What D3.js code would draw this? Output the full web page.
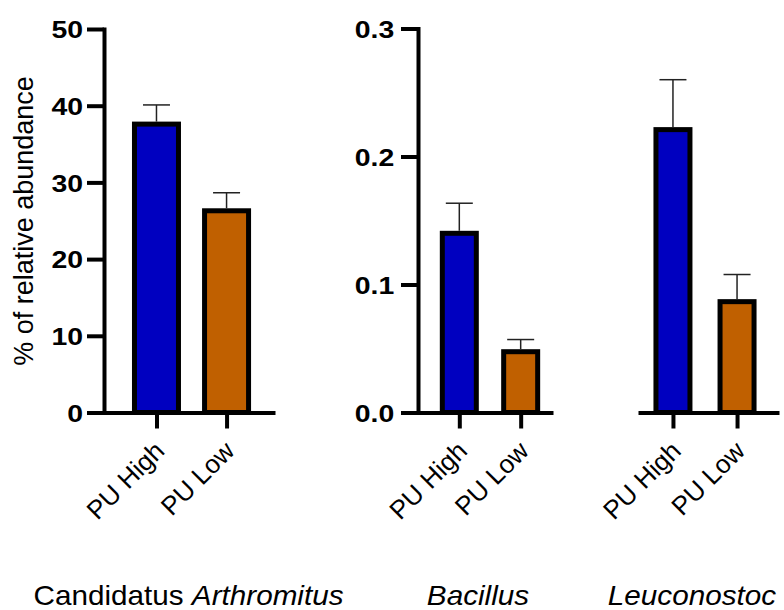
<!DOCTYPE html>
<html>
<head>
<meta charset="utf-8">
<script src="https://cdn.jsdelivr.net/npm/d3@7"></script>
<style>
  body { margin: 0; background: #fff; }
  text { font-family: "Liberation Sans", Arial, sans-serif; }
</style>
</head>
<body>
<div id="chart"></div>
<script>
// Data
const genera = ["Candidatus Arthromitus", "Bacillus", "Leuconostoc"];
const groups = ["PU High", "PU Low"];
const meanHigh = [37.6, 0.140, 0.221];
const meanLow = [26.3, 0.0475, 0.0866];
const errHigh = [2.5, 0.0235, 0.039];
const errLow = [2.35, 0.0095, 0.0212];
const colors = ["#0000c0", "#c06000"];
const ticksLeft = [0, 10, 20, 30, 40, 50];
const ticksRight = [0, 0.1, 0.2, 0.3];

const width = 784, height = 610;

const svg = d3.select("#chart")
    .append("svg")
    .attr("width", width)
    .attr("height", height);

// Two value scales: percent for first genus, smaller one shared by the other two
const yLeft = d3.scaleLinear().domain([0, 50]).range([412.5, 29]);
const yRight = d3.scaleLinear().domain([0, 0.3]).range([412.5, 28.5]);

const panels = [
    {g: 0, y: yLeft, range: [104, 275], pad: 0.72, align: 0.52, barW: 44, ticks: ticksLeft, fmt: d3.format("d"), labX: -18, labOff: -3},
    {g: 1, y: yRight, range: [418, 553], pad: 0.6, align: 0.561, barW: 34, ticks: ticksRight, fmt: d3.format(".1f"), labX: -20.5, labOff: -12},
    {g: 2, y: yRight, range: [638, 779], pad: 0.6, align: 0.4545, barW: 34, ticks: null, labOff: -13}
];

const sx = 1.06; // labels in the figure are slightly wide

panels.forEach(p => {
    const x = d3.scalePoint().domain(groups).range(p.range).padding(p.pad).align(p.align);
    const rows = groups.map((grp, i) => ({
        grp: grp,
        mean: i === 0 ? meanHigh[p.g] : meanLow[p.g],
        err: i === 0 ? errHigh[p.g] : errLow[p.g],
        color: colors[i]
    }));

    // bars
    svg.append("g")
        .selectAll("rect")
        .data(rows)
        .enter()
        .append("rect")
        .attr("x", d => x(d.grp) - p.barW / 2)
        .attr("y", d => p.y(d.mean))
        .attr("width", p.barW)
        .attr("height", d => p.y(0) - p.y(d.mean))
        .attr("fill", d => d.color)
        .attr("stroke", "#000")
        .attr("stroke-width", 5);

    // upper error bars
    const eb = svg.append("g")
        .attr("stroke", "#222")
        .attr("stroke-width", 1.5);
    eb.selectAll(".stem")
        .data(rows)
        .enter()
        .append("line")
        .attr("x1", d => x(d.grp)).attr("x2", d => x(d.grp))
        .attr("y1", d => p.y(d.mean) - 2.5)
        .attr("y2", d => p.y(d.mean + d.err));
    eb.selectAll(".cap")
        .data(rows)
        .enter()
        .append("line")
        .attr("x1", d => x(d.grp) - 13.5).attr("x2", d => x(d.grp) + 13.5)
        .attr("y1", d => p.y(d.mean + d.err))
        .attr("y2", d => p.y(d.mean + d.err));

    // x axis
    const xAxis = svg.append("g")
        .attr("transform", `translate(0,${p.y(0)})`)
        .call(d3.axisBottom(x).tickSize(16).tickSizeOuter(0));
    xAxis.select(".domain").attr("stroke-width", 4);
    xAxis.selectAll(".tick line").attr("stroke-width", 4);
    xAxis.selectAll(".tick text")
        .attr("x", 9)
        .attr("y", 40)
        .attr("dy", 0)
        .attr("text-anchor", "end")
        .attr("transform", "rotate(-45 9 40)")
        .attr("fill", "#000")
        .style("font-size", "26px")
        .style("font-family", "'Liberation Sans', Arial, sans-serif");

    // y axis
    if (p.ticks) {
        const yAxis = svg.append("g")
            .attr("transform", `translate(${p.range[0]},0)`)
            .call(d3.axisLeft(p.y).tickValues(p.ticks).tickFormat(p.fmt).tickSize(17).tickSizeOuter(0));
        yAxis.select(".domain")
            .attr("stroke-width", 4)
            .attr("stroke-linecap", "square");
        yAxis.selectAll(".tick line").attr("stroke-width", 4);
        yAxis.selectAll(".tick text")
            .attr("x", p.labX)
            .attr("dy", "0.36em")
            .attr("transform", "scale(1.16,1)")
            .attr("fill", "#000")
            .style("font-size", "24.5px")
            .style("font-weight", "bold")
            .style("font-family", "'Liberation Sans', Arial, sans-serif");
    }

    // genus label under the panel
    const cx = d3.mean(groups, grp => x(grp)) + p.labOff;
    const lab = svg.append("text")
        .attr("x", cx / sx)
        .attr("y", 605)
        .attr("transform", `scale(${sx},1)`)
        .attr("text-anchor", "middle")
        .style("font-size", "28px")
        .attr("fill", "#000");
    const name = genera[p.g];
    if (name.startsWith("Candidatus ")) {
        lab.append("tspan").text("Candidatus ");
        lab.append("tspan").style("font-style", "italic").text(name.replace("Candidatus ", ""));
    } else {
        lab.append("tspan").style("font-style", "italic").text(name);
    }
});

// y axis title
svg.append("text")
    .attr("transform", "translate(33,221) rotate(-90)")
    .attr("text-anchor", "middle")
    .style("font-size", "27px")
    .attr("fill", "#000")
    .text("% of relative abundance");
</script>
</body>
</html>
